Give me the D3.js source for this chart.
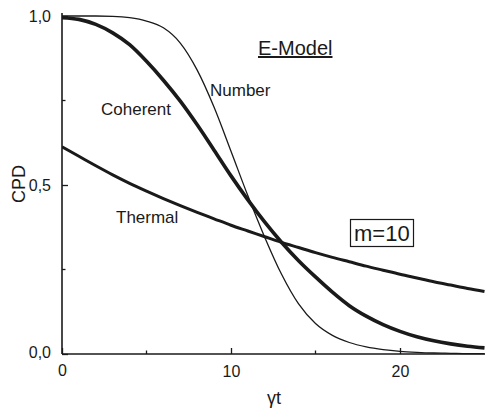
<!DOCTYPE html>
<html><head><meta charset="utf-8">
<script src="https://cdn.jsdelivr.net/npm/d3@7/dist/d3.min.js"></script>
<style>body{margin:0;background:#fff}svg{display:block;font-family:"Liberation Sans",Arial,sans-serif}</style>
</head><body><svg id="c" width="485" height="409"></svg>
<script>
const times = d3.range(0, 26);
const numberVals   = [1.0,1.0,1.0,0.999,0.995,0.985,0.965,0.92,0.84,0.73,0.6,0.468,0.345,0.235,0.148,0.09,0.055,0.034,0.021,0.013,0.008,0.005,0.003,0.002,0.001,0.001];
const coherentVals = [0.995,0.99,0.975,0.95,0.915,0.866,0.81,0.748,0.678,0.603,0.527,0.456,0.39,0.33,0.276,0.228,0.183,0.143,0.112,0.087,0.067,0.051,0.039,0.03,0.023,0.018];
const thermalVals  = [0.613,0.585,0.557,0.530,0.505,0.482,0.460,0.439,0.419,0.400,0.381,0.364,0.347,0.330,0.315,0.300,0.286,0.273,0.260,0.248,0.236,0.225,0.214,0.204,0.194,0.185];
const xTickVals = [0,10,20];
const xMinorTicks = [5,15];
const yTickVals = [0,0.5,1.0];
const yTickLabels = ["0,0","0,5","1,0"];
const yMinorTicks = [0.25,0.75];

const svg = d3.select("#c");
const x = d3.scaleLinear().domain([0,25]).range([62,484.5]);
const y = d3.scaleLinear().domain([0,1]).range([354,16]);
const ink = "#1a1a1a";

svg.append("clipPath").attr("id","cp").append("rect")
  .attr("x",62).attr("y",0).attr("width",423).attr("height",356);

const line = d3.line().x((d,i)=>x(times[i])).y(d=>y(d)).curve(d3.curveMonotoneX);
const g = svg.append("g").attr("clip-path","url(#cp)");
g.append("path").datum(thermalVals).attr("d",line).attr("fill","none").attr("stroke",ink).attr("stroke-width",3);
g.append("path").datum(coherentVals).attr("d",line).attr("fill","none").attr("stroke",ink).attr("stroke-width",3.6);
g.append("path").datum(numberVals).attr("d",line).attr("fill","none").attr("stroke",ink).attr("stroke-width",1.3);

const xAxis = d3.axisBottom(x).tickValues(xTickVals).tickSize(-6).tickPadding(12).tickFormat(d3.format("d"));
const xa = svg.append("g").attr("transform","translate(0,354)").call(xAxis);
xa.select(".domain").attr("d","M62,0H485");
const yAxis = d3.axisLeft(y).tickValues(yTickVals).tickSize(-6).tickPadding(11).tickFormat((d,i)=>yTickLabels[i]);
const ya = svg.append("g").attr("transform","translate(62,0)").call(yAxis);
ya.select(".domain").attr("d","M0,354V13");
[xa,ya].forEach(a=>{
  a.selectAll(".domain").attr("stroke",ink).attr("stroke-width",1.6);
  a.selectAll(".tick line").attr("stroke",ink).attr("stroke-width",1.3);
  a.selectAll("text").attr("fill",ink).attr("font-size",16).attr("font-family","Liberation Sans, Arial, sans-serif");
});
xa.selectAll(".minor").data(xMinorTicks).enter().append("line")
  .attr("x1",d=>x(d)).attr("x2",d=>x(d)).attr("y1",0).attr("y2",-3.5).attr("stroke",ink).attr("stroke-width",1.3);
ya.selectAll(".minor").data(yMinorTicks).enter().append("line")
  .attr("y1",d=>y(d)).attr("y2",d=>y(d)).attr("x1",0).attr("x2",3.5).attr("stroke",ink).attr("stroke-width",1.3);
xa.selectAll(".tick text").filter(d=>d===0).attr("dy","0.6em");
ya.selectAll(".tick text").filter(d=>d===0).attr("dy","0.2em");

const lab = (t,xp,yp,fs,anchor)=>svg.append("text").attr("x",xp).attr("y",yp).attr("font-size",fs)
  .attr("fill",ink).attr("text-anchor",anchor||"start").text(t);
lab("Coherent",101,115,17);
lab("Number",210,96,17);
lab("Thermal",116,223,17);
lab("E-Model",258,55,20).attr("text-decoration","underline");
lab("m=10",354,241,22);
svg.append("rect").attr("x",350.5).attr("y",219.5).attr("width",63).attr("height",27)
  .attr("fill","none").attr("stroke",ink).attr("stroke-width",1.2);
lab("γt",274,404,18,"middle");
svg.append("text").attr("transform","translate(25,184) rotate(-90)").attr("text-anchor","middle")
  .attr("font-size",18).attr("fill",ink).text("CPD");
</script></body></html>
